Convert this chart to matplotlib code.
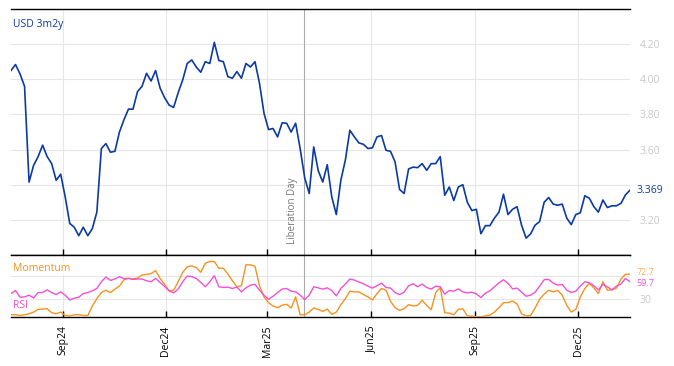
import matplotlib
matplotlib.use("Agg")
import matplotlib.pyplot as plt
import matplotlib.transforms as mtransforms
import pandas as pd

plt.rcParams['font.family'] = ['Open Sans', 'DejaVu Sans']

# ---------------- data ----------------
start_date = "2024-07-17"
n_points = 138
dates = pd.date_range(start_date, periods=n_points, freq="4D")

usd_3m2y = [
    4.05, 4.084, 4.03, 3.96, 3.415, 3.51, 3.56, 3.625, 3.56, 3.52,
    3.425, 3.46, 3.33, 3.18, 3.158, 3.11, 3.158, 3.11, 3.15, 3.244,
    3.606, 3.634, 3.585, 3.59, 3.70, 3.77, 3.83, 3.83, 3.93, 3.96,
    4.034, 3.99, 4.05, 3.95, 3.895,
    3.853, 3.84, 3.924, 3.996, 4.09, 4.11, 4.07, 4.04, 4.10, 4.09,
    4.21, 4.107, 4.10, 4.015, 4.006, 4.044, 4.006, 4.09, 4.07, 4.10,
    3.977, 3.806, 3.714, 3.72, 3.672, 3.752, 3.75, 3.70, 3.75, 3.605,
    3.44, 3.35, 3.615, 3.48,
    3.415, 3.514, 3.33, 3.23, 3.425, 3.54, 3.71, 3.672, 3.638, 3.63,
    3.606, 3.61, 3.672, 3.68, 3.596, 3.59, 3.53, 3.373, 3.35, 3.49,
    3.50, 3.497, 3.52, 3.482, 3.52, 3.52, 3.56, 3.34, 3.387, 3.31,
    3.387, 3.40, 3.30, 3.253,
    3.26, 3.121, 3.167, 3.167, 3.21, 3.244, 3.346, 3.23, 3.26, 3.275,
    3.17, 3.096, 3.12, 3.17, 3.19, 3.30, 3.327, 3.29, 3.283, 3.29,
    3.21, 3.173, 3.23, 3.24, 3.337, 3.323, 3.275, 3.244, 3.313, 3.27,
    3.28, 3.28, 3.294, 3.342, 3.369,
]

momentum = [
    3.8, 3.8, 2.6, 3.8, 5.5, 8.3, 12.9, 13.5, 14, 7.2,
    5.5, 8.3, 2.6, 1.5, 3.8, 3.8, 2.6, 2.6, 18.6, 31.2,
    41.4, 45.4, 41.4, 47.2, 52.3, 63.1, 65.4, 64.3, 66, 71.1,
    72.3, 73.4, 78.6, 65.4, 55.2, 44.3, 45.4, 59.7, 75.7, 84.8,
    86.6, 83.7, 75.7, 91.1, 94, 94, 82.6, 82.6, 72.9, 61.4,
    51.2, 52.9, 88.3, 88.3, 86, 52.9, 34, 24.3, 18.6, 15.8,
    19.8, 21.5, 15.2, 34, 3.8, 3.8, 8.3, 15.2, 12.9,
    9.5, 13.5, 4.3, 8.3, 20.9, 31.2, 43.7, 42.6, 42.6, 38,
    34, 28.9, 39.7, 48.3, 45.4, 26.6, 15.8, 11.2, 14, 20.9,
    18.6, 19.8, 28.3, 19.8, 12.3, 41.4, 50, 7.2, 6.6, 3.8,
    12.9, 14, 2, 1.5, 0.3, 0.3, 2, 3.2, 8.3, 15.8,
    24.3, 24.3, 27.2, 22, 5.5, 2, 2.6, 15.2, 30, 38.6,
    45.4, 42.6, 44.9, 36.9, 19.8, 8.3, 12.9, 34, 48.3, 56.9,
    49.4, 39.7, 59.7, 45.4, 46, 48.9, 64.3, 72.3, 72.7,
]

rsi = [
    39.7, 44.9, 33.5, 34, 36.9, 32.3, 41.4, 41.4, 46, 41.4,
    38, 42.6, 36.9, 28.9, 31.7, 33.5, 39.7, 41.4, 44.3, 48.3,
    59.7, 67.7, 62, 64.3, 68.3, 64.9, 65.4, 63.7, 64.3, 64.3,
    61.4, 59.7, 65.4, 58.6, 51.7, 44.3, 40.9, 47.2, 59.7, 69.4,
    68.3, 65.4, 58.6, 51.2, 59.7, 70, 51.2, 50, 50.6, 48.3,
    50.6, 42.6, 49.4, 54, 55.2, 45.4, 36.9, 30, 35.2, 41.4,
    47.2, 48.3, 43.7, 42.6, 36.9, 29.5, 36.9, 51.2, 49.4,
    47.2, 49.4, 44.9, 35.7, 48.3, 55.7, 64.3, 62.6, 59.1, 56.3,
    52.3, 48.9, 52.9, 57.4, 50, 48.9, 41.4, 38, 42, 52.9,
    56.3, 51.2, 55.7, 50, 47.2, 52.3, 51.2, 38.6, 44.9, 43.7,
    47.7, 42.6, 40.9, 42, 39.2, 32.9, 40.3, 44.3, 51.2, 58,
    63.1, 56.9, 47.7, 48.9, 42, 35.2, 36.9, 42, 52.3, 63.1,
    63.7, 57.4, 54, 55.2, 45.4, 41.4, 43.7, 52.3, 59.7, 58,
    52.9, 46, 55.2, 51.2, 46, 52.3, 55.7, 65.4, 59.7,
]

x_tick_dates = ["2024-09-01", "2024-12-01", "2025-03-01", "2025-06-01", "2025-09-01", "2025-12-01"]
x_tick_labels = ["Sep24", "Dec24", "Mar25", "Jun25", "Sep25", "Dec25"]
main_yticks = [3.2, 3.4, 3.6, 3.8, 4.0, 4.2]
main_ytick_labels = ["3.20", "", "3.60", "3.80", "4.00", "4.20"]
lower_yticks = [30, 70]
lower_ytick_labels = ["30", ""]
event_date = "2025-04-02"
event_label = "Liberation Day"
series_label = "USD 3m2y"

# ---------------- style ----------------
BLUE = "#0b3aa4"
ORANGE = "#f7921e"
MAGENTA = "#f54fd6"
GRID = "#e6e6e6"
TICKGRAY = "#c8c8c8"

fig = plt.figure(figsize=(6.74, 3.66), dpi=100)
ax = fig.add_axes([11/674, 1-255/366, 619/674, 246/366])
ax2 = fig.add_axes([11/674, 1-317/366, 619/674, 62/366], sharex=ax)

xmin, xmax = dates[0], dates[-1]
ticks = pd.to_datetime(x_tick_dates)

for a in (ax, ax2):
    a.set_xlim(xmin, xmax)
    for s in ("left", "right"):
        a.spines[s].set_visible(False)
    for s in ("top", "bottom"):
        a.spines[s].set_color("black")
        a.spines[s].set_linewidth(1.0)
    a.set_xticks(ticks)
    a.grid(True, color=GRID, linewidth=0.8)
    a.set_axisbelow(True)
    a.yaxis.tick_right()
    a.tick_params(axis="y", length=0, pad=7, labelsize=7.5, labelcolor=TICKGRAY)
    a.tick_params(axis="x", direction="in", length=4, width=1, color="black")
    a.axvline(pd.Timestamp(event_date), color="#aaaaaa", linewidth=0.8, zorder=1)

# main panel
ax.plot(dates, usd_3m2y, color=BLUE, linewidth=1.2, zorder=3)
ax.set_ylim(3.0, 4.4)
ax.set_yticks(main_yticks)
ax.set_yticklabels(main_ytick_labels)
ax.tick_params(axis="x", labelbottom=False)
ax.text(0.004, 0.935, series_label, transform=ax.transAxes, color=BLUE,
        fontsize=7.5, ha="left", va="center")
ax.annotate(event_label, xy=(pd.Timestamp(event_date), 3.065), xytext=(-4, 0),
            textcoords="offset points", rotation=90, ha="right", va="bottom",
            fontsize=7, color="#777777")
trans = mtransforms.blended_transform_factory(ax.transAxes, ax.transData)
ax.text(1.011, usd_3m2y[-1], f"{usd_3m2y[-1]:.3f}", transform=trans,
        color=BLUE, fontsize=7.5, ha="left", va="center", clip_on=False)

# lower panel
ax2.plot(dates, momentum, color=ORANGE, linewidth=1.0, zorder=3)
ax2.plot(dates, rsi, color=MAGENTA, linewidth=1.0, zorder=3)
ax2.set_ylim(0, 105)
ax2.set_yticks(lower_yticks)
ax2.set_yticklabels(lower_ytick_labels)
ax2.set_xticklabels(x_tick_labels, rotation=90, fontsize=7.5, color="black")
ax2.tick_params(axis="x", pad=6)
ax2.text(0.004, 0.79, "Momentum", transform=ax2.transAxes, color=ORANGE, fontsize=7.5,
         ha="left", va="center", zorder=5,
         bbox=dict(boxstyle="square,pad=0.1", facecolor="white", edgecolor="none", alpha=0.75))
ax2.text(0.004, 0.18, "RSI", transform=ax2.transAxes, color=MAGENTA, fontsize=7.5,
         ha="left", va="center", zorder=5,
         bbox=dict(boxstyle="square,pad=0.1", facecolor="white", edgecolor="none", alpha=0.75))
trans2 = mtransforms.blended_transform_factory(ax2.transAxes, ax2.transData)
ax2.text(1.011, momentum[-1] + 3.5, f"{momentum[-1]:.1f}", transform=trans2, color="#fbb060",
         fontsize=6.5, ha="left", va="center", clip_on=False)
ax2.text(1.011, rsi[-1] - 3.5, f"{rsi[-1]:.1f}", transform=trans2, color=MAGENTA,
         fontsize=6.5, ha="left", va="center", clip_on=False)

fig.savefig("out.png", dpi=100)
